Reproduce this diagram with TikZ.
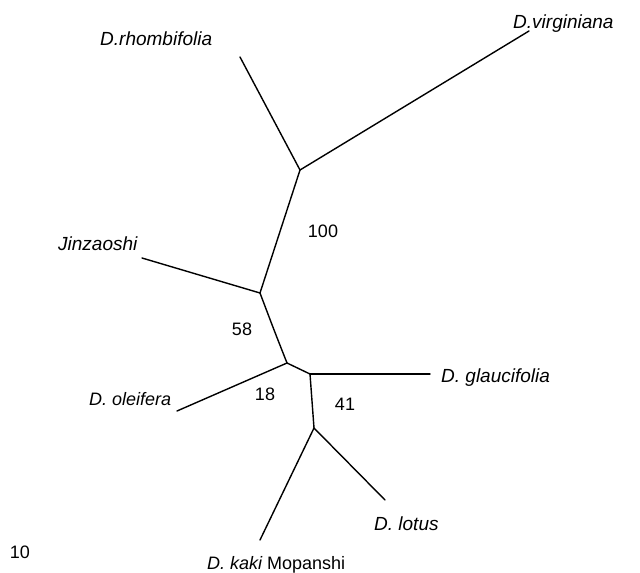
\documentclass[tikz,border=0pt]{standalone}
\usepackage{fontspec}
\setmainfont{Liberation Sans}
\begin{document}
\begin{tikzpicture}[x=1pt,y=-1pt,
  branch/.style={line width=1.4pt,line cap=round,line join=round},
  taxon/.style={font=\fontsize{19}{21}\selectfont\itshape,inner sep=0pt},
  smalltaxon/.style={font=\fontsize{18}{20}\selectfont\itshape,inner sep=0pt},
  support/.style={font=\fontsize{18}{20}\selectfont,inner sep=0pt}]
\useasboundingbox (0,0) rectangle (640,573);
% internal nodes
\coordinate (A) at (300,170);
\coordinate (B) at (260,293);
\coordinate (C) at (287,363);
\coordinate (D) at (310,374);
\coordinate (E) at (314,428);
% tips
\coordinate (rho) at (240,57);
\coordinate (vir) at (529,31);
\coordinate (jin) at (142,258);
\coordinate (ole) at (177,411);
\coordinate (gla) at (430,374);
\coordinate (kak) at (260,540);
\coordinate (lot) at (385,500);
% branches
\draw[branch] (A) -- (rho);
\draw[branch] (A) -- (vir);
\draw[branch] (A) -- (B);
\draw[branch] (B) -- (jin);
\draw[branch] (B) .. controls (274,330) .. (C);
\draw[branch] (C) -- (ole);
\draw[branch] (C) -- (D);
\draw[branch] (D) -- (gla);
\draw[branch] (D) -- (E);
\draw[branch] (E) -- (kak);
\draw[branch] (E) -- (lot);
% taxon labels
\node[taxon,anchor=base west] (lrho) at (100,45) {D.rhombifolia};
\node[taxon,anchor=base west] (lvir) at (513,28) {D.virginiana};
\node[taxon,anchor=base west] (ljin) at (58,250) {Jinzaoshi};
\node[taxon,anchor=base west] (lgla) at (441,382) {D. glaucifolia};
\node[smalltaxon,anchor=base west] (lole) at (89,405) {D. oleifera};
\node[taxon,anchor=base west] (llot) at (374,530) {D. lotus};
\node[smalltaxon,anchor=base west] (lkak) at (207,569) {D. kaki \upshape Mopanshi};
% support values and scale
\node[support,anchor=base] (s100) at (323,237) {100};
\node[support,anchor=base] (s58) at (242,335) {58};
\node[support,anchor=base] (s18) at (265,400) {18};
\node[support,anchor=base] (s41) at (345,410) {41};
\node[support,anchor=base] (s10) at (20,558) {10};
\end{tikzpicture}
\end{document}
